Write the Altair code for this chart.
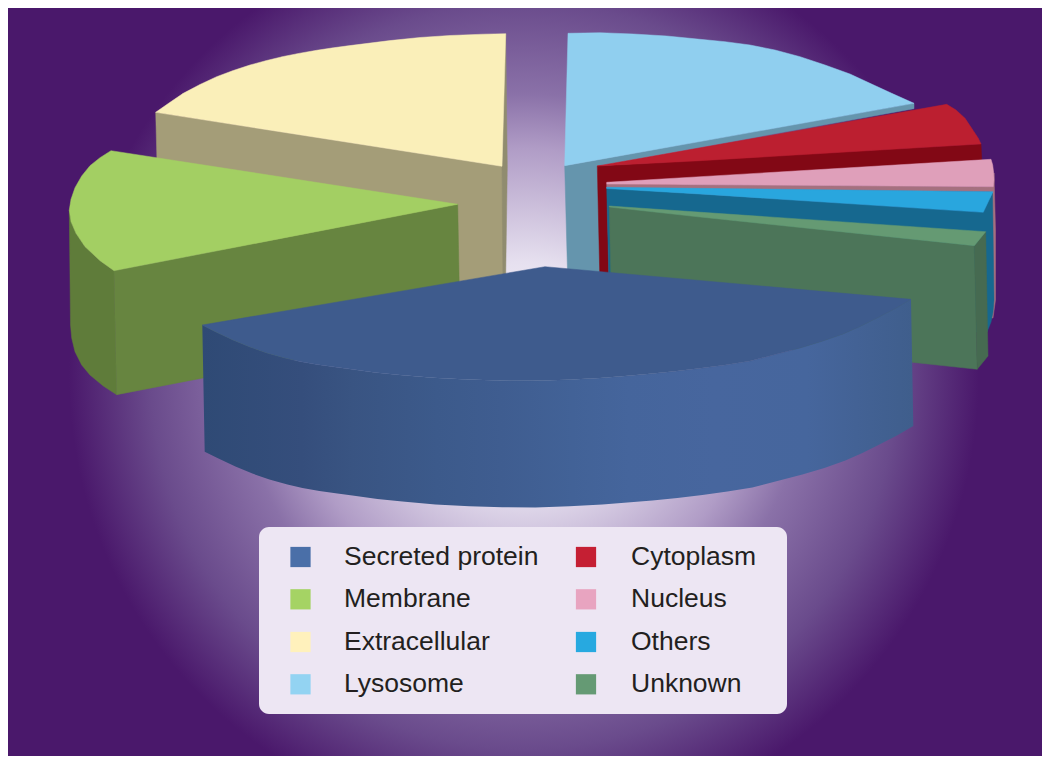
import altair as alt
import pandas as pd

# ---- legend content
categories = ["Secreted protein", "Membrane", "Extracellular", "Lysosome",
              "Cytoplasm", "Nucleus", "Others", "Unknown"]
swatches = ["#4a6fa8", "#a5d364", "#fff1bc", "#93d3f2",
            "#c51f33", "#e8a4c0", "#27a9e0", "#659a74"]
legend_sx = [300.5, 300.5, 300.5, 300.5, 586, 586, 586, 586]
legend_tx = [344, 344, 344, 344, 631, 631, 631, 631]
legend_y = [557, 599.3, 642, 684.3, 557, 599.3, 642, 684.3]

# ---- faces of the exploded pie (back to front)
ext_side_x = [155.7, 502, 505, 159]
ext_side_y = [112.3, 166.3, 290, 240]
ext_edge_x = [505.7, 507.3, 505.5, 503, 502]
ext_edge_y = [33.7, 166.5, 290, 290, 166.3]
ext_top_x = [155.7, 169, 183.3, 200, 216.7, 233.3, 250, 266.7, 283.3, 300, 316.7, 333.3,
             350, 390, 420, 450, 483.3, 505.7, 502]
ext_top_y = [112.3, 103, 93.3, 84.5, 76.7, 70.5, 65, 60.5, 56.5, 53.2, 50.3, 47.8,
             45.6, 40.6, 37.5, 35.5, 34.2, 33.7, 166.3]

mem_round_x = [69.3, 71, 76, 85, 100, 114, 116.7, 103.3, 90, 81.7, 75, 71.7, 70.5]
mem_round_y = [210, 221.7, 233.3, 246.7, 260.7, 270.7, 394.7, 386, 375, 365, 351.7, 338, 325]
mem_front_x = [114, 457.7, 460, 116.7]
mem_front_y = [270.7, 204.3, 328, 394.7]
mem_top_x = [111, 100, 90, 81.7, 75, 71, 69.3, 71, 76, 85, 100, 114, 457.7]
mem_top_y = [150.7, 157.7, 165.7, 176, 187.7, 199.3, 210, 221.7, 233.3, 246.7, 260.7, 270.7, 204.3]

lys_side_x = [564.7, 914, 914, 700, 597, 603, 568]
lys_side_y = [165.7, 103.3, 108.7, 147.3, 166, 290, 290]
lys_top_x = [568, 600, 633.3, 666.7, 700, 725, 750, 775, 800, 825, 850, 870, 891.7, 914, 564.7]
lys_top_y = [33.3, 32.7, 34, 36, 39.3, 41.7, 45, 50, 56.7, 65, 74, 83.3, 93.3, 103.3, 165.7]

cyt_side_x = [597.3, 981, 981.7, 607, 609, 600]
cyt_side_y = [166, 144, 160, 190, 285, 285]
cyt_top_x = [597.3, 946.7, 956, 965, 973.3, 978.3, 981, 700]
cyt_top_y = [166, 104.3, 110, 118.3, 130.7, 138.3, 144, 160.7]

nuc_rim_x = [993.3, 994, 995.5, 995.5, 993, 990, 990]
nuc_rim_y = [186.7, 173, 230, 300, 318, 318, 190]
nuc_band_x = [606.7, 993.3, 993, 606.7]
nuc_band_y = [184, 186.7, 191.7, 188]
nuc_top_x = [606.7, 991, 992.7, 993.7, 994, 993.3, 606.7]
nuc_top_y = [182.3, 159.3, 165, 173.3, 180, 186.7, 184]

oth_side_x = [606.7, 983.3, 992.5, 994, 993, 991, 987, 612, 609]
oth_side_y = [188, 212.3, 193, 300, 312, 322, 332, 332, 285]
oth_top_x = [606.7, 993, 983.3, 700, 606.7]
oth_top_y = [187.3, 191.7, 212.3, 194, 188.5]

unk_side_x = [609.3, 974.3, 977.2, 612]
unk_side_y = [207, 245.7, 369.3, 330]
unk_end_x = [974.3, 985.7, 988, 977.2]
unk_end_y = [245.7, 231.7, 356, 369.3]
unk_top_x = [609.3, 985.7, 974.3, 700, 609.3]
unk_top_y = [206, 231.7, 245.7, 217, 207]

rim_x = [202.3, 215, 233, 250, 267, 285, 300, 317, 335, 350, 375, 400, 433, 467, 500, 533,
         567, 600, 625, 650, 675, 700, 725, 750, 775, 800, 822, 843, 860, 877, 895, 911]
rim_y = [325, 331.5, 340, 347, 353, 358, 361.5, 364.5, 367, 369, 372.5, 375, 377.8, 379.6,
         380.6, 380.8, 379.7, 378, 376, 373.8, 371.3, 368.3, 365, 361, 354.5, 348, 341.3,
         334, 326.5, 318, 308.7, 299.3]
foot_x = [913.3, 897.4, 879.4, 862.4, 845.4, 824.4, 802.4, 777.4, 752.4, 727.4, 702.4, 677.4,
          652.4, 627.4, 602.4, 569.4, 535.4, 502.4, 469.4, 435.4, 402.4, 377.4, 352.4, 337.4,
          319.4, 302.4, 287.4, 269.4, 252.4, 235.4, 217.4, 204.7]
foot_y = [426, 435.3, 444.6, 453.1, 460.6, 467.9, 474.6, 481.1, 487.6, 491.6, 494.9, 497.9,
          500.4, 502.6, 504.6, 506.3, 507.4, 507.2, 506.2, 504.4, 501.6, 499.1, 495.6, 493.6,
          491.1, 488.1, 484.6, 479.6, 473.6, 466.6, 458.1, 451.7]
sec_side_x = rim_x + foot_x
sec_side_y = rim_y + foot_y
sec_top_x = [545] + rim_x
sec_top_y = [266.7] + rim_y

faces = [
    ("ext_side", "#a49d78", ext_side_x, ext_side_y),
    ("ext_edge", "#908c6f", ext_edge_x, ext_edge_y),
    ("ext_top", "#faefb9", ext_top_x, ext_top_y),
    ("mem_round", "#5f7c3a", mem_round_x, mem_round_y),
    ("mem_front", "#678540", mem_front_x, mem_front_y),
    ("mem_top", "#a3cf63", mem_top_x, mem_top_y),
    ("lys_side", "#6595ad", lys_side_x, lys_side_y),
    ("lys_top", "#90cfef", lys_top_x, lys_top_y),
    ("cyt_side", "#820815", cyt_side_x, cyt_side_y),
    ("cyt_top", "#bc1f30", cyt_top_x, cyt_top_y),
    ("nuc_rim", "#a5707f", nuc_rim_x, nuc_rim_y),
    ("oth_side", "#16688f", oth_side_x, oth_side_y),
    ("nuc_band", "#a5707f", nuc_band_x, nuc_band_y),
    ("nuc_top", "#df9fba", nuc_top_x, nuc_top_y),
    ("oth_top", "#29a6de", oth_top_x, oth_top_y),
    ("unk_side", "#4c7559", unk_side_x, unk_side_y),
    ("unk_end", "#466a51", unk_end_x, unk_end_y),
    ("unk_top", "#659a73", unk_top_x, unk_top_y),
]


def table(name, colour, xs, ys):
    return pd.DataFrame({"face": name, "paint": colour, "x": xs, "y": ys, "i": range(len(xs))})


W, H = 1034, 748
X = alt.Scale(domain=[8, 1042], range=[0, W], nice=False, zero=False)
Y = alt.Scale(domain=[8, 756], range=[0, H], nice=False, zero=False)
xq = alt.X("x:Q", scale=X, axis=None)
yq = alt.Y("y:Q", scale=Y, axis=None)

backdrop = alt.Chart(pd.DataFrame({"a": [0]})).mark_rect(
    fill=alt.RadialGradient(
        gradient="radial", x1=0.499, y1=0.494, r1=0, x2=0.499, y2=0.494, r2=0.44,
        stops=[
            alt.GradientStop(offset=0, color="#ffffff"),
            alt.GradientStop(offset=0.25, color="#e6e0ef"),
            alt.GradientStop(offset=0.5, color="#b09cc6"),
            alt.GradientStop(offset=0.62, color="#8a71a8"),
            alt.GradientStop(offset=0.82, color="#6a4b8c"),
            alt.GradientStop(offset=1, color="#4a186b"),
        ],
    )
).encode(x=alt.value(0), x2=alt.value(W), y=alt.value(0), y2=alt.value(H))

body = alt.Chart(pd.concat([table(*f) for f in faces], ignore_index=True)).mark_line(
    strokeWidth=0.5, interpolate="linear-closed"
).encode(
    x=xq, y=yq, order="i:Q", detail="face:N",
    fill=alt.Fill("paint:N", scale=None), stroke=alt.Stroke("paint:N", scale=None),
)

side_stops = [
    (0.0, "#2f4a75"), (0.14, "#354e7c"), (0.21, "#395482"), (0.33, "#3c5a8b"),
    (0.42, "#3f5d90"), (0.52, "#426297"), (0.6, "#45659c"), (0.72, "#47669e"),
    (0.85, "#46669d"), (0.92, "#436295"), (1.0, "#3f5e8c"),
]
sec_side = alt.Chart(table("sec_side", "#46669e", sec_side_x, sec_side_y)).mark_line(
    interpolate="linear-closed", strokeWidth=0,
    fill=alt.LinearGradient(
        gradient="linear", x1=0, y1=0, x2=1, y2=0,
        stops=[alt.GradientStop(offset=o, color=c) for o, c in side_stops],
    ),
).encode(x=xq, y=yq, order="i:Q")

sec_top = alt.Chart(table("sec_top", "#3e5b8d", sec_top_x, sec_top_y)).mark_line(
    strokeWidth=0.5, interpolate="linear-closed"
).encode(
    x=xq, y=yq, order="i:Q",
    fill=alt.Fill("paint:N", scale=None), stroke=alt.Stroke("paint:N", scale=None),
)

panel = alt.Chart(pd.DataFrame({"x": [259], "x2": [787], "y": [527], "y2": [714]})).mark_rect(
    fill="#ede6f3", cornerRadius=10
).encode(x=xq, x2="x2:Q", y=yq, y2="y2:Q")

legend_df = pd.DataFrame({"name": categories, "paint": swatches, "sx": legend_sx,
                          "tx": legend_tx, "y": legend_y})
squares = alt.Chart(legend_df).mark_square(size=410, opacity=1).encode(
    x=alt.X("sx:Q", scale=X, axis=None), y=yq,
    fill=alt.Fill("paint:N", scale=None),
)
labels = alt.Chart(legend_df).mark_text(
    align="left", baseline="middle", font="Liberation Sans", fontSize=26.5, color="#231f20"
).encode(x=alt.X("tx:Q", scale=X, axis=None), y=yq, text="name:N")

chart = alt.layer(backdrop, body, sec_side, sec_top, panel, squares, labels).properties(
    width=W, height=H, padding=0, background="white",
    autosize=alt.AutoSizeParams(type="none"),
).configure_view(stroke=None)

chart.save("out.html", embed_options={"renderer": "svg", "actions": False})
